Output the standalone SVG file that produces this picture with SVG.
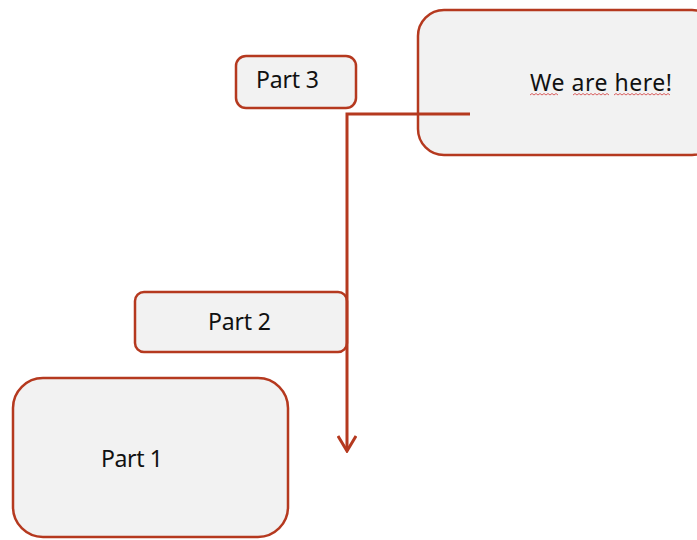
<svg xmlns="http://www.w3.org/2000/svg" width="697" height="540" viewBox="0 0 697 540">
<style>
.box{fill:#F2F2F2;stroke:#B5391F;stroke-width:2.5}
.lbl{font-family:"Noto Sans","Open Sans",sans-serif;font-size:23px;fill:#111}
.conn{fill:none;stroke:#B5391F;stroke-width:3}
.sq{fill:none;stroke:#D23A3A;stroke-width:0.8}
</style>
<defs>
<marker id="arr" viewBox="0 0 20 20" refX="18" refY="10" markerWidth="20" markerHeight="20" markerUnits="userSpaceOnUse" orient="auto">
<path d="M3,1 L18,10 L3,19" fill="none" stroke="#B5391F" stroke-width="3"/>
</marker>
</defs>
<g id="here">
<rect class="box" x="418" y="10" width="300" height="145" rx="26"/>
<text class="lbl" x="530" y="91" textLength="142" lengthAdjust="spacing">We are here!</text>
<path class="sq" d="M530,95 l2,-1.5 l2,1.5 l2,-1.5 l2,1.5 l2,-1.5 l2,1.5 l2,-1.5 l2,1.5 l2,-1.5 l2,1.5 l2,-1.5 l2,1.5 l2,-1.5 l2,1.5"/>
<path class="sq" d="M573,95 l2,-1.5 l2,1.5 l2,-1.5 l2,1.5 l2,-1.5 l2,1.5 l2,-1.5 l2,1.5 l2,-1.5 l2,1.5 l2,-1.5 l2,1.5 l2,-1.5 l2,1.5 l2,-1.5 l2,1.5 l2,-1.5 l2,1.5"/>
<path class="sq" d="M614,95 l2,-1.5 l2,1.5 l2,-1.5 l2,1.5 l2,-1.5 l2,1.5 l2,-1.5 l2,1.5 l2,-1.5 l2,1.5 l2,-1.5 l2,1.5 l2,-1.5 l2,1.5 l2,-1.5 l2,1.5 l2,-1.5 l2,1.5 l2,-1.5 l2,1.5 l2,-1.5 l2,1.5 l2,-1.5 l2,1.5 l2,-1.5 l2,1.5 l2,-1.5 l2,1.5"/>
</g>
<g id="part3">
<rect class="box" x="236" y="56" width="120" height="52" rx="10"/>
<text class="lbl" x="256" y="88" textLength="63" lengthAdjust="spacing">Part 3</text>
</g>
<g id="part2">
<rect class="box" x="135" y="292" width="212" height="60" rx="9"/>
<text class="lbl" x="208" y="330" textLength="63" lengthAdjust="spacing">Part 2</text>
</g>
<g id="part1">
<rect class="box" x="13" y="378" width="275" height="159" rx="30"/>
<text class="lbl" x="101" y="467" textLength="62" lengthAdjust="spacing">Part 1</text>
</g>
<g id="connectors">
<path class="conn" d="M470,114 L347,114 L347,451" marker-end="url(#arr)"/>
</g>
</svg>
